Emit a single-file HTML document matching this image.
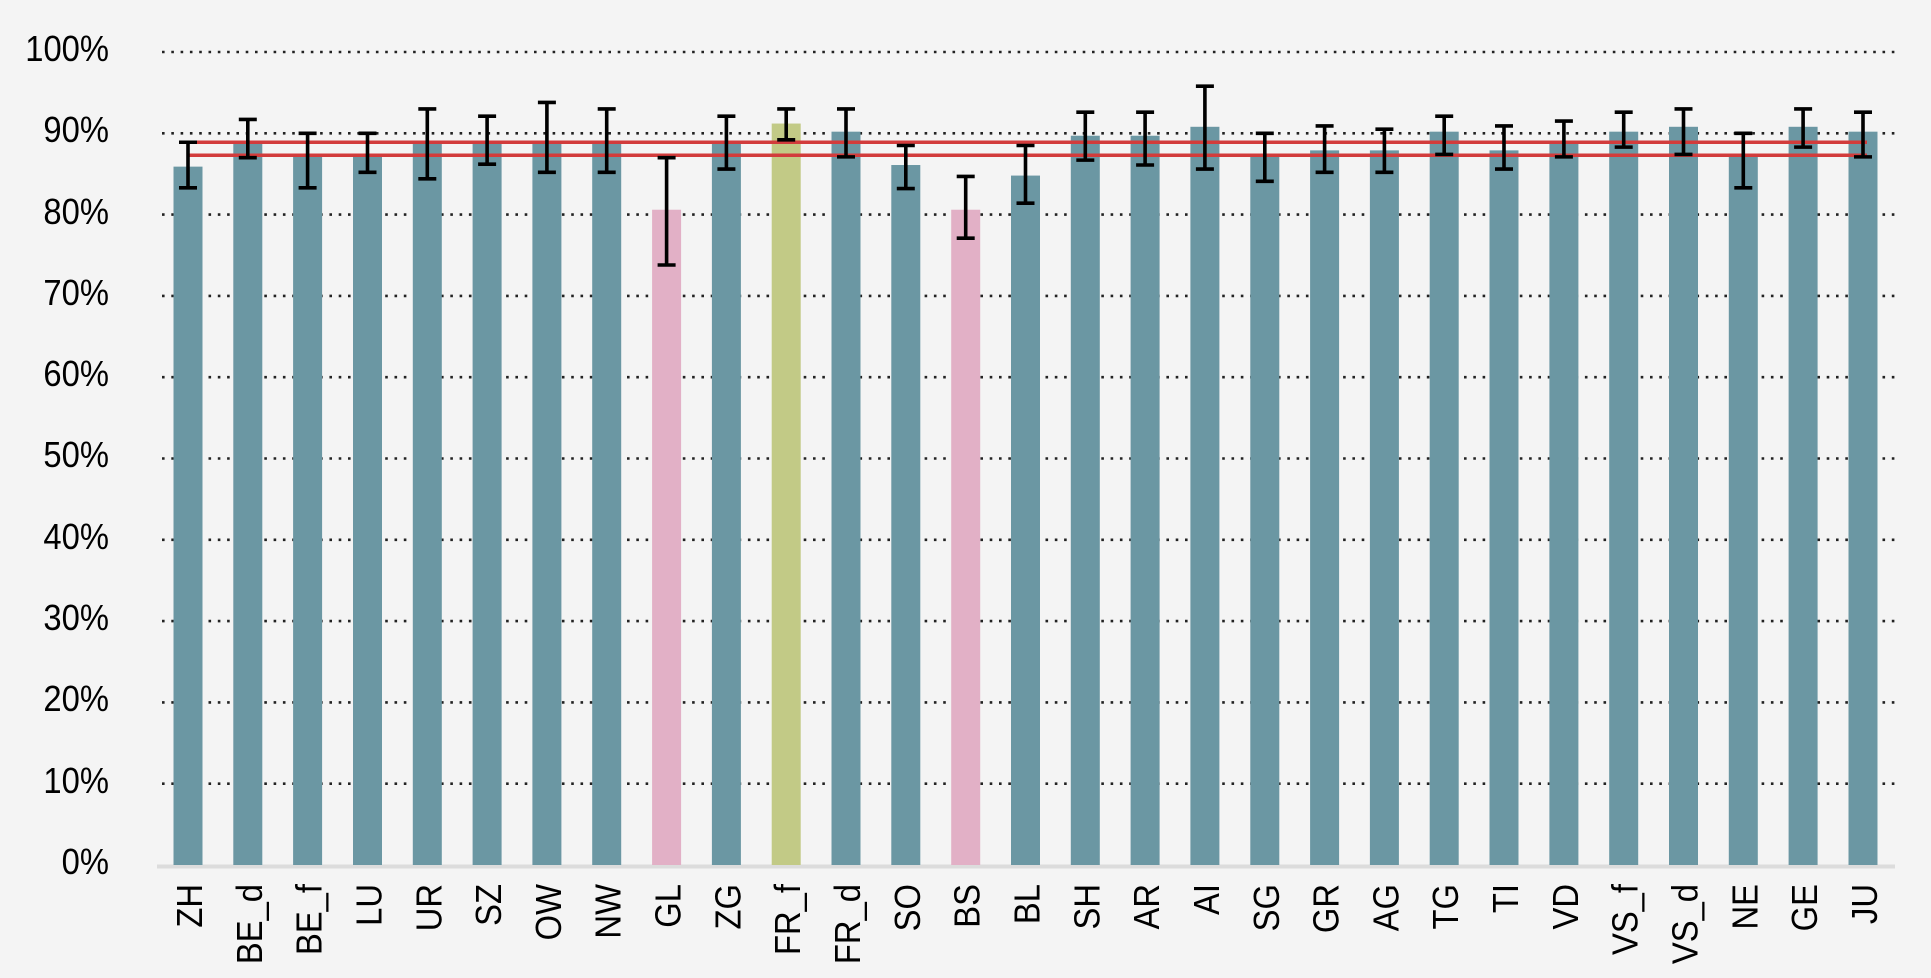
<!DOCTYPE html>
<html><head><meta charset="utf-8"><style>
html,body{margin:0;padding:0;background:#f4f4f4;}
svg{display:block;}
text{font-family:"Liberation Sans",sans-serif;font-size:36px;fill:#000;}
</style></head><body>
<svg width="1931" height="978" viewBox="0 0 1931 978" xmlns="http://www.w3.org/2000/svg">
<rect width="1931" height="978" fill="#f4f4f4"/>
<g stroke="#222" stroke-width="2.6" stroke-dasharray="2.6 6.7">
<line x1="162" x2="1895" y1="52" y2="52"/>
<line x1="162" x2="1895" y1="133.3" y2="133.3"/>
<line x1="162" x2="1895" y1="214.6" y2="214.6"/>
<line x1="162" x2="1895" y1="295.9" y2="295.9"/>
<line x1="162" x2="1895" y1="377.2" y2="377.2"/>
<line x1="162" x2="1895" y1="458.5" y2="458.5"/>
<line x1="162" x2="1895" y1="539.8" y2="539.8"/>
<line x1="162" x2="1895" y1="621.1" y2="621.1"/>
<line x1="162" x2="1895" y1="702.4" y2="702.4"/>
<line x1="162" x2="1895" y1="783.7" y2="783.7"/>
</g>
<g text-anchor="end" transform="translate(109,0) scale(0.91,1) translate(-109,0)">
<text x="109" y="61">100%</text>
<text x="109" y="142">90%</text>
<text x="109" y="224">80%</text>
<text x="109" y="305">70%</text>
<text x="109" y="386">60%</text>
<text x="109" y="467">50%</text>
<text x="109" y="549">40%</text>
<text x="109" y="630">30%</text>
<text x="109" y="711">20%</text>
<text x="109" y="793">10%</text>
<text x="109" y="874">0%</text>
</g>
<line x1="157" x2="1895" y1="866.5" y2="866.5" stroke="#dcdcdc" stroke-width="4"/>
<g transform="translate(0,865) scale(1,-8.13)">
<rect x="173.5" y="0" width="29" height="85.9" fill="#6b97a3"/>
<rect x="233.3" y="0" width="29" height="89.1" fill="#6b97a3"/>
<rect x="293.1" y="0" width="29" height="87.1" fill="#6b97a3"/>
<rect x="353" y="0" width="29" height="87.4" fill="#6b97a3"/>
<rect x="412.8" y="0" width="29" height="89.1" fill="#6b97a3"/>
<rect x="472.6" y="0" width="29" height="89.1" fill="#6b97a3"/>
<rect x="532.4" y="0" width="29" height="89.1" fill="#6b97a3"/>
<rect x="592.2" y="0" width="29" height="89.1" fill="#6b97a3"/>
<rect x="652.1" y="0" width="29" height="80.6" fill="#e2b0c6"/>
<rect x="711.9" y="0" width="29" height="89.1" fill="#6b97a3"/>
<rect x="771.7" y="0" width="29" height="91.2" fill="#c2ca86"/>
<rect x="831.5" y="0" width="29" height="90.2" fill="#6b97a3"/>
<rect x="891.3" y="0" width="29" height="86.1" fill="#6b97a3"/>
<rect x="951.2" y="0" width="29" height="80.6" fill="#e2b0c6"/>
<rect x="1011" y="0" width="29" height="84.8" fill="#6b97a3"/>
<rect x="1070.8" y="0" width="29" height="89.7" fill="#6b97a3"/>
<rect x="1130.6" y="0" width="29" height="89.7" fill="#6b97a3"/>
<rect x="1190.4" y="0" width="29" height="90.8" fill="#6b97a3"/>
<rect x="1250.3" y="0" width="29" height="87.1" fill="#6b97a3"/>
<rect x="1310.1" y="0" width="29" height="87.9" fill="#6b97a3"/>
<rect x="1369.9" y="0" width="29" height="87.9" fill="#6b97a3"/>
<rect x="1429.7" y="0" width="29" height="90.2" fill="#6b97a3"/>
<rect x="1489.5" y="0" width="29" height="87.9" fill="#6b97a3"/>
<rect x="1549.4" y="0" width="29" height="89.1" fill="#6b97a3"/>
<rect x="1609.2" y="0" width="29" height="90.2" fill="#6b97a3"/>
<rect x="1669" y="0" width="29" height="90.8" fill="#6b97a3"/>
<rect x="1728.8" y="0" width="29" height="87.1" fill="#6b97a3"/>
<rect x="1788.6" y="0" width="29" height="90.8" fill="#6b97a3"/>
<rect x="1848.5" y="0" width="29" height="90.2" fill="#6b97a3"/>
<g stroke="#d23c3c" stroke-width="3.5">
<line x1="188" x2="1867" y1="88.9" y2="88.9" vector-effect="non-scaling-stroke"/>
<line x1="188" x2="1867" y1="87.3" y2="87.3" vector-effect="non-scaling-stroke"/>
</g>
<g stroke="#000" stroke-width="3.6" fill="none">
<path vector-effect="non-scaling-stroke" d="M188 88.9V83.3M179 88.9H197M179 83.3H197"/>
<path vector-effect="non-scaling-stroke" d="M247.8 91.7V87M238.8 91.7H256.8M238.8 87H256.8"/>
<path vector-effect="non-scaling-stroke" d="M307.6 90V83.3M298.6 90H316.6M298.6 83.3H316.6"/>
<path vector-effect="non-scaling-stroke" d="M367.5 90V85.2M358.5 90H376.5M358.5 85.2H376.5"/>
<path vector-effect="non-scaling-stroke" d="M427.3 93V84.4M418.3 93H436.3M418.3 84.4H436.3"/>
<path vector-effect="non-scaling-stroke" d="M487.1 92.1V86.2M478.1 92.1H496.1M478.1 86.2H496.1"/>
<path vector-effect="non-scaling-stroke" d="M546.9 93.8V85.2M537.9 93.8H555.9M537.9 85.2H555.9"/>
<path vector-effect="non-scaling-stroke" d="M606.7 93V85.2M597.7 93H615.7M597.7 85.2H615.7"/>
<path vector-effect="non-scaling-stroke" d="M666.6 87V73.8M657.6 87H675.6M657.6 73.8H675.6"/>
<path vector-effect="non-scaling-stroke" d="M726.4 92.1V85.6M717.4 92.1H735.4M717.4 85.6H735.4"/>
<path vector-effect="non-scaling-stroke" d="M786.2 93V89.2M777.2 93H795.2M777.2 89.2H795.2"/>
<path vector-effect="non-scaling-stroke" d="M846 93V87.1M837 93H855M837 87.1H855"/>
<path vector-effect="non-scaling-stroke" d="M905.8 88.5V83.2M896.8 88.5H914.8M896.8 83.2H914.8"/>
<path vector-effect="non-scaling-stroke" d="M965.7 84.7V77.1M956.7 84.7H974.7M956.7 77.1H974.7"/>
<path vector-effect="non-scaling-stroke" d="M1025.5 88.5V81.4M1016.5 88.5H1034.5M1016.5 81.4H1034.5"/>
<path vector-effect="non-scaling-stroke" d="M1085.3 92.6V86.7M1076.3 92.6H1094.3M1076.3 86.7H1094.3"/>
<path vector-effect="non-scaling-stroke" d="M1145.1 92.6V86.1M1136.1 92.6H1154.1M1136.1 86.1H1154.1"/>
<path vector-effect="non-scaling-stroke" d="M1204.9 95.8V85.6M1195.9 95.8H1213.9M1195.9 85.6H1213.9"/>
<path vector-effect="non-scaling-stroke" d="M1264.8 90V84.1M1255.8 90H1273.8M1255.8 84.1H1273.8"/>
<path vector-effect="non-scaling-stroke" d="M1324.6 90.9V85.2M1315.6 90.9H1333.6M1315.6 85.2H1333.6"/>
<path vector-effect="non-scaling-stroke" d="M1384.4 90.5V85.2M1375.4 90.5H1393.4M1375.4 85.2H1393.4"/>
<path vector-effect="non-scaling-stroke" d="M1444.2 92.1V87.4M1435.2 92.1H1453.2M1435.2 87.4H1453.2"/>
<path vector-effect="non-scaling-stroke" d="M1504 90.9V85.6M1495 90.9H1513M1495 85.6H1513"/>
<path vector-effect="non-scaling-stroke" d="M1563.9 91.5V87.1M1554.9 91.5H1572.9M1554.9 87.1H1572.9"/>
<path vector-effect="non-scaling-stroke" d="M1623.7 92.6V88.3M1614.7 92.6H1632.7M1614.7 88.3H1632.7"/>
<path vector-effect="non-scaling-stroke" d="M1683.5 93V87.4M1674.5 93H1692.5M1674.5 87.4H1692.5"/>
<path vector-effect="non-scaling-stroke" d="M1743.3 90V83.3M1734.3 90H1752.3M1734.3 83.3H1752.3"/>
<path vector-effect="non-scaling-stroke" d="M1803.1 93V88.3M1794.1 93H1812.1M1794.1 88.3H1812.1"/>
<path vector-effect="non-scaling-stroke" d="M1863 92.6V87.1M1854 92.6H1872M1854 87.1H1872"/>
</g>
</g>
<g text-anchor="end">
<text transform="translate(202,884) rotate(-90) scale(0.91,1)">ZH</text>
<text transform="translate(261.8,884) rotate(-90) scale(0.91,1)">BE_d</text>
<text transform="translate(321.6,884) rotate(-90) scale(0.91,1)">BE_f</text>
<text transform="translate(381.5,884) rotate(-90) scale(0.91,1)">LU</text>
<text transform="translate(441.3,884) rotate(-90) scale(0.91,1)">UR</text>
<text transform="translate(501.1,884) rotate(-90) scale(0.91,1)">SZ</text>
<text transform="translate(560.9,884) rotate(-90) scale(0.91,1)">OW</text>
<text transform="translate(620.7,884) rotate(-90) scale(0.91,1)">NW</text>
<text transform="translate(680.6,884) rotate(-90) scale(0.91,1)">GL</text>
<text transform="translate(740.4,884) rotate(-90) scale(0.91,1)">ZG</text>
<text transform="translate(800.2,884) rotate(-90) scale(0.91,1)">FR_f</text>
<text transform="translate(860,884) rotate(-90) scale(0.91,1)">FR_d</text>
<text transform="translate(919.8,884) rotate(-90) scale(0.91,1)">SO</text>
<text transform="translate(979.7,884) rotate(-90) scale(0.91,1)">BS</text>
<text transform="translate(1039.5,884) rotate(-90) scale(0.91,1)">BL</text>
<text transform="translate(1099.3,884) rotate(-90) scale(0.91,1)">SH</text>
<text transform="translate(1159.1,884) rotate(-90) scale(0.91,1)">AR</text>
<text transform="translate(1218.9,884) rotate(-90) scale(0.91,1)">AI</text>
<text transform="translate(1278.8,884) rotate(-90) scale(0.91,1)">SG</text>
<text transform="translate(1338.6,884) rotate(-90) scale(0.91,1)">GR</text>
<text transform="translate(1398.4,884) rotate(-90) scale(0.91,1)">AG</text>
<text transform="translate(1458.2,884) rotate(-90) scale(0.91,1)">TG</text>
<text transform="translate(1518,884) rotate(-90) scale(0.91,1)">TI</text>
<text transform="translate(1577.9,884) rotate(-90) scale(0.91,1)">VD</text>
<text transform="translate(1637.7,884) rotate(-90) scale(0.91,1)">VS_f</text>
<text transform="translate(1697.5,884) rotate(-90) scale(0.91,1)">VS_d</text>
<text transform="translate(1757.3,884) rotate(-90) scale(0.91,1)">NE</text>
<text transform="translate(1817.1,884) rotate(-90) scale(0.91,1)">GE</text>
<text transform="translate(1877,884) rotate(-90) scale(0.91,1)">JU</text>
</g>
</svg>
</body></html>
